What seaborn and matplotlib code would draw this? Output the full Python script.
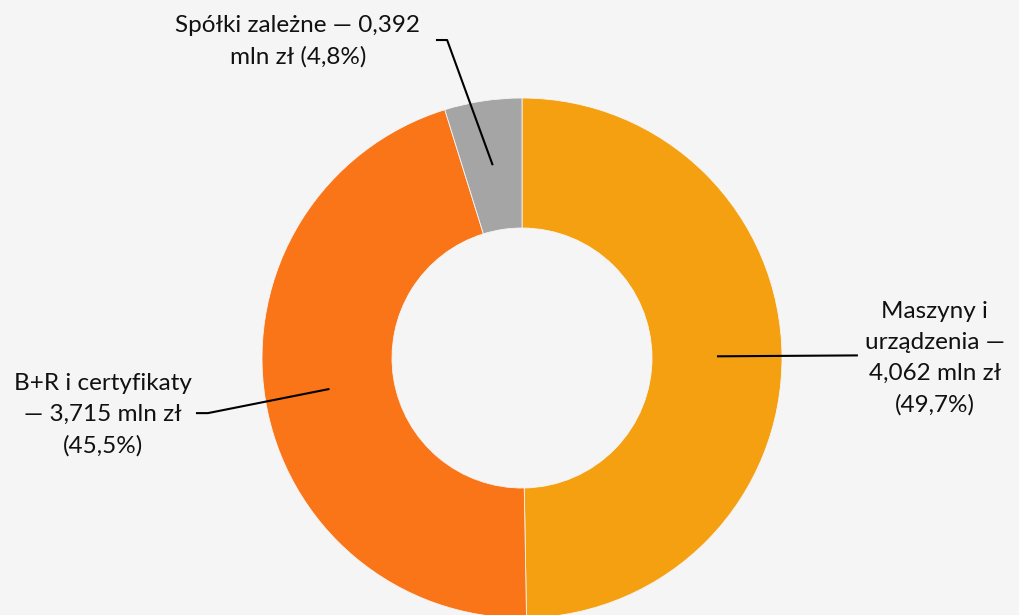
import numpy as np
import matplotlib
matplotlib.use("Agg")
import matplotlib.pyplot as plt
import seaborn as sns

categories = ["Maszyny i urządzenia", "B+R i certyfikaty", "Spółki zależne"]
values = [4.062, 3.715, 0.392]
label_texts = [
    "Maszyny i\nurządzenia —\n4,062 mln zł\n(49,7%)",
    "B+R i certyfikaty\n— 3,715 mln zł\n(45,5%)",
    "Spółki zależne — 0,392\nmln zł (4,8%)",
]
colors = ["#F4A011", "#F97518", "#A5A5A5"]

sns.set_theme(style="white")
plt.rcParams["font.family"] = ["Lato", "DejaVu Sans"]
bg = "#F5F5F5"

fig = plt.figure(figsize=(10.2, 6.15), dpi=100, facecolor=bg)
ax = fig.add_axes([0, 0, 1, 1])
ax.set_facecolor(bg)

wedges, _ = ax.pie(values, colors=colors, startangle=90, counterclock=False,
                   radius=1.0, wedgeprops=dict(width=0.5, edgecolor="#F5F5F5", linewidth=0.6))

# label layout: (elbow, line end, text centre) in data units
layout = [
    (None, (1.292, 0.01), (1.588, 0.0)),
    ((-1.208, -0.212), (-1.254, -0.212), (-1.612, -0.219)),
    ((-0.288, 1.223), (-0.331, 1.223), (-0.862, 1.219)),
]
for w, txt, (elbow, end, tpos) in zip(wedges, label_texts, layout):
    ang = np.deg2rad((w.theta1 + w.theta2) / 2)
    start = (0.75 * np.cos(ang), 0.75 * np.sin(ang))
    pts = [start] + ([elbow] if elbow else []) + [end]
    xs, ys = zip(*pts)
    ax.plot(xs, ys, color="black", lw=1.5, solid_capstyle="butt")
    ax.text(tpos[0], tpos[1], txt, ha="center", va="center", fontsize=17.5,
            color="#111111", linespacing=1.58)

ax.set_xlim(-522 / 260, (1020 - 522) / 260)
ax.set_ylim((358 - 615) / 260, 358 / 260)
ax.set_aspect("auto")
ax.axis("off")

fig.savefig("out.png", dpi=100, facecolor=bg)
